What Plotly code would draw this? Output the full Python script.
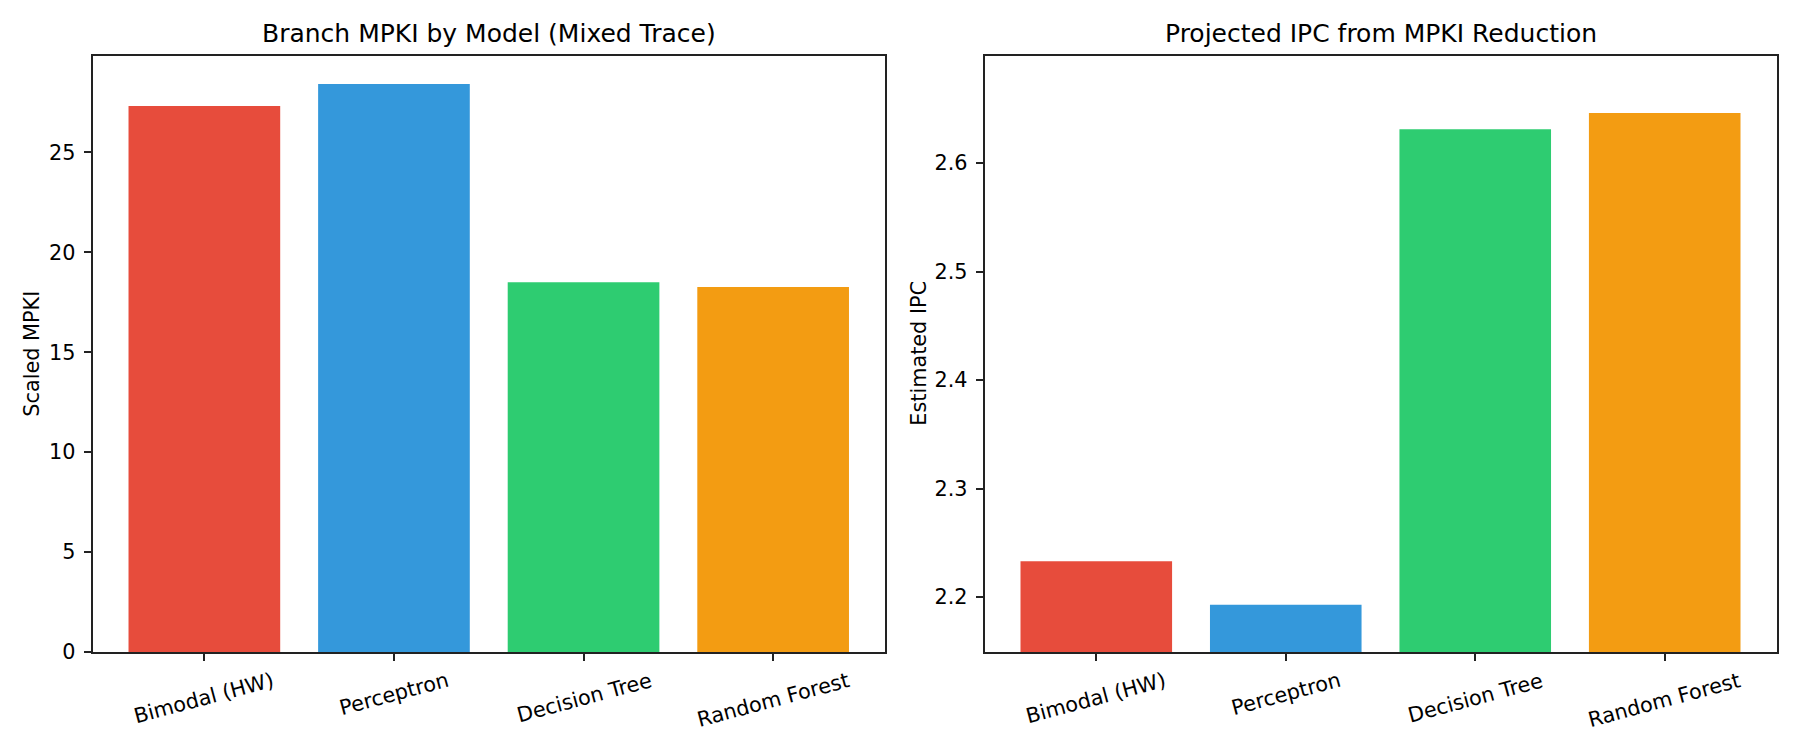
import plotly.graph_objects as go

models = ["Bimodal (HW)", "Perceptron", "Decision Tree", "Random Forest"]
mpki = [27.32, 28.43, 18.50, 18.26]
ipc = [2.233, 2.193, 2.631, 2.646]
colors = ["#e74c3c", "#3498db", "#2ecc71", "#f39c12"]
left_ticks = [0, 5, 10, 15, 20, 25]
right_ticks = [2.2, 2.3, 2.4, 2.5, 2.6]

W, H = 1800, 750
FONT = "DejaVu Sans"
TICK = 20.8
TITLE = 25

xd1 = [92.5 / W, 885 / W]
xd2 = [984.5 / W, 1776.5 / W]
yd = [1 - 652 / H, 1 - 55.5 / H]

fig = go.Figure()
fig.add_trace(go.Bar(x=models, y=mpki, marker=dict(color=colors, line=dict(width=0)),
                     width=0.8, xaxis="x", yaxis="y", showlegend=False))
fig.add_trace(go.Bar(x=models, y=ipc, marker=dict(color=colors, line=dict(width=0)),
                     width=0.8, xaxis="x2", yaxis="y2", showlegend=False))

axis_common = dict(showline=True, linecolor="#222222", linewidth=1.6, mirror=True,
                   ticks="outside", ticklen=7, tickwidth=1.6, tickcolor="#222222",
                   showgrid=False, zeroline=False, automargin=False,
                   tickfont=dict(family=FONT, size=TICK, color="black"))

fig.update_layout(
    width=W, height=H,
    margin=dict(l=0, r=0, t=0, b=0, pad=0, autoexpand=False),
    paper_bgcolor="white", plot_bgcolor="white",
    font=dict(family=FONT, color="black"),
    bargap=0.2,
    xaxis=dict(domain=xd1, type="category", range=[-0.59, 3.59], showticklabels=False,
               anchor="y", **axis_common),
    yaxis=dict(domain=yd, range=[0, 29.85], tickvals=left_ticks, anchor="x",
               ticklabelstandoff=4, **axis_common),
    xaxis2=dict(domain=xd2, type="category", range=[-0.59, 3.59], showticklabels=False,
                anchor="y2", **axis_common),
    yaxis2=dict(domain=yd, range=[2.1495, 2.699], tickvals=right_ticks, tickformat=".1f",
                anchor="x2", ticklabelstandoff=4, **axis_common),
)

annotations = []
for xd, txt in [(xd1, "Branch MPKI by Model (Mixed Trace)"),
                (xd2, "Projected IPC from MPKI Reduction")]:
    annotations.append(dict(text=txt, xref="paper", yref="paper", x=(xd[0] + xd[1]) / 2,
                            y=yd[1], xanchor="center", yanchor="bottom", yshift=6,
                            showarrow=False, borderpad=0,
                            font=dict(family=FONT, size=TITLE, color="black")))
for xpix, txt in [(32, "Scaled MPKI"), (919, "Estimated IPC")]:
    annotations.append(dict(text=txt, xref="paper", yref="paper", x=xpix / W,
                            y=(yd[0] + yd[1]) / 2, xanchor="center", yanchor="middle",
                            textangle=-90, showarrow=False, borderpad=0,
                            font=dict(family=FONT, size=TICK, color="black")))
for xr in ["x", "x2"]:
    for m in models:
        annotations.append(dict(text=m, xref=xr, yref="paper", x=m, y=yd[0],
                                xanchor="center", yanchor="top", yshift=-15,
                                textangle=-15, showarrow=False, borderpad=0,
                                font=dict(family=FONT, size=TICK, color="black")))
fig.update_layout(annotations=annotations)

fig.write_html("out.html", config={"displayModeBar": False},
               post_script="document.body.style.margin='0';document.body.style.padding='0';")
